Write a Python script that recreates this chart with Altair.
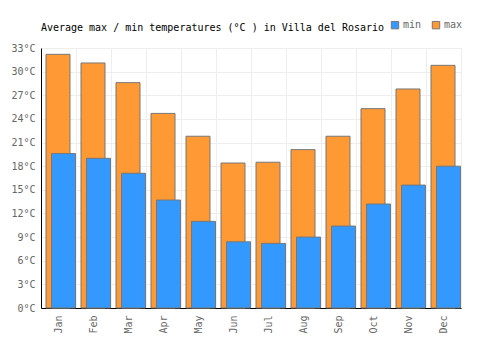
import altair as alt
import pandas as pd

months = ["Jan", "Feb", "Mar", "Apr", "May", "Jun", "Jul", "Aug", "Sep", "Oct", "Nov", "Dec"]
t_max = [32.2, 31.1, 28.6, 24.7, 21.8, 18.4, 18.5, 20.1, 21.8, 25.3, 27.8, 30.8]
t_min = [19.6, 19.0, 17.1, 13.7, 11.0, 8.4, 8.2, 9.0, 10.4, 13.2, 15.6, 18.0]
y_ticks = list(range(0, 34, 3))

df_max = pd.DataFrame({"month": months, "temp": t_max, "series": "max"})
df_min = pd.DataFrame({"month": months, "temp": t_min, "series": "min"})

FONT = "DejaVu Sans Mono"

x = alt.X("month:N", sort=months, title=None,
          scale=alt.Scale(paddingInner=0, paddingOuter=0),
          axis=alt.Axis(labelAngle=-90, labelFont=FONT, labelFontSize=10,
                        labelColor="#666666", ticks=False, labelPadding=7,
                        domainColor="#000000", domainWidth=1,
                        grid=True, gridColor="#eeeeee", bandPosition=0))
y = alt.Y("temp:Q", title=None,
          scale=alt.Scale(domain=[0, 33], nice=False),
          axis=alt.Axis(values=y_ticks, labelExpr="datum.value + '°C'",
                        labelFont=FONT, labelFontSize=10, labelColor="#666666",
                        ticks=False, labelPadding=6, domainColor="#000000",
                        domainWidth=1, gridColor="#eeeeee"))
color = alt.Color("series:N",
                  scale=alt.Scale(domain=["min", "max"], range=["#3399ff", "#ff9933"]),
                  legend=alt.Legend(title=None, orient="none", legendX=349, legendY=-28,
                                    direction="horizontal", symbolType="square",
                                    symbolSize=55, symbolStrokeColor="#777777",
                                    symbolStrokeWidth=1, labelFont=FONT, labelFontSize=10,
                                    labelColor="#666666", columnPadding=8, labelOffset=3))

bars_max = alt.Chart(df_max).mark_bar(width=24, xOffset=-0.5, stroke="#777777", strokeWidth=1).encode(
    x=x, y=y, color=color)
bars_min = alt.Chart(df_min).mark_bar(width=24, xOffset=5, stroke="#777777", strokeWidth=1).encode(
    x=x, y=y, color=color)

chart = alt.layer(bars_max, bars_min).properties(
    width=420, height=260,
    autosize=alt.AutoSizeParams(type="none"),
    padding={"left": 41, "top": 48, "right": 39, "bottom": 42},
    title=alt.TitleParams("Average max / min temperatures (°C ) in Villa del Rosario",
                          anchor="start", font=FONT, fontSize=10, fontWeight="normal",
                          color="#000000", offset=-13, dx=30),
).configure_view(stroke="#eeeeee")

chart.save("out.html", embed_options={"renderer": "svg", "actions": False})
